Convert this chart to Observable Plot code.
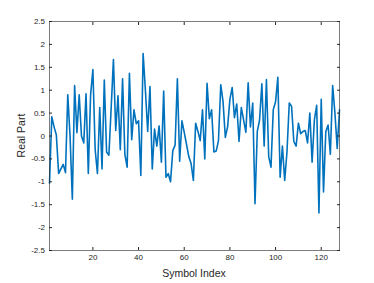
<!DOCTYPE html>
<html>
<head>
<meta charset="utf-8">
<script src="https://cdn.jsdelivr.net/npm/d3@7"></script>
<script src="https://cdn.jsdelivr.net/npm/@observablehq/plot@0.6"></script>
<style>
  html, body { margin: 0; padding: 0; background: #fff; }
  #chart svg { display: block; }
</style>
</head>
<body>
<div id="chart"></div>
<script>
const realPart = [
  -1.03, 0.42, 0.2, 0.02, -0.82, -0.72, -0.62, -0.8, 0.9, 0.0,
  -1.38, 1.1, 0.07, 0.9, 0.0, -0.15, 0.92, -0.82, 0.9, 1.45,
  -0.3, -0.82, 0.62, -0.72, 1.22, -0.35, -0.42, 0.6, 1.67, 0.12,
  0.88, -0.3, 1.25, -0.4, -0.68, 1.37, -0.08, 0.57, 0.27, 0.33,
  -0.86, 1.8, 1.0, 0.1, 1.08, -0.72, 0.15, -0.22, 0.22, -0.57,
  0.98, -0.9, -0.82, -1.0, -0.32, -0.2, 1.25, -0.55, 0.33, 0.08,
  -0.18, -0.45, -0.6, -0.97, 0.28, 0.1, -0.1, 0.57, -0.5, 1.15,
  0.38, 0.57, -0.35, -0.33, -0.1, 1.12, 0.75, -0.03, 0.2, 0.8,
  1.06, 0.4, 0.7, -0.12, 0.62, 0.35, 0.08, 1.16, 0.2, 0.72,
  -1.48, 0.1, 0.35, 1.14, -0.22, 1.23, -0.45, -0.68, 0.58, 0.75,
  1.28, -0.9, -0.22, -0.97, -0.35, 0.72, 0.65, -0.12, -0.22, 0.28,
  0.05, 0.1, 0.12, -0.15, 0.5, -0.57, 0.35, 0.67, -1.68, 0.8,
  -1.22, 0.1, 0.24, -0.4, 1.1, 0.5, -0.27, 0.57
];
const symbolIndex = realPart.map((_, i) => i + 1);
const xTicks = [20, 40, 60, 80, 100, 120];
const yTicks = [-2.5, -2, -1.5, -1, -0.5, 0, 0.5, 1, 1.5, 2, 2.5];
const xLabel = "Symbol Index";
const yLabel = "Real Part";

const data = symbolIndex.map((x, i) => ({x, y: realPart[i]}));
const axisColor = "#262626";
const fmt = d => String(d);

const chart = Plot.plot({
  width: 374,
  height: 283,
  marginLeft: 49,
  marginRight: 35,
  marginTop: 21,
  marginBottom: 33,
  style: {fontFamily: "'Liberation Sans', Arial, Helvetica, sans-serif", fontSize: "8px", color: axisColor, background: "#fff"},
  x: {domain: [1, 128]},
  y: {domain: [-2.5, 2.5]},
  marks: [
    Plot.line(data, {x: "x", y: "y", stroke: "#0072BD", strokeWidth: 1.6, strokeLinejoin: "round"}),
    Plot.frame({stroke: axisColor, strokeWidth: 0.6}),
    Plot.axisX({ticks: xTicks, tickFormat: fmt, tickSize: -3, tickPadding: 7, stroke: axisColor, fill: axisColor, label: null}),
    Plot.axisX({anchor: "top", ticks: xTicks, tickSize: -3, stroke: axisColor, text: null, label: null}),
    Plot.axisY({ticks: yTicks, tickFormat: fmt, tickSize: -3, tickPadding: 7.5, stroke: axisColor, fill: axisColor, label: null}),
    Plot.axisY({anchor: "right", ticks: yTicks, tickSize: -3, stroke: axisColor, text: null, label: null})
  ]
});

const svg = d3.select(chart);
svg.append("text")
  .attr("x", 49 + (374 - 49 - 35) / 2)
  .attr("y", 277)
  .attr("text-anchor", "middle")
  .attr("fill", axisColor)
  .style("font-size", "10.5px")
  .text(xLabel);
svg.append("text")
  .attr("transform", `translate(25, ${21 + (283 - 21 - 33) / 2}) rotate(-90)`)
  .attr("text-anchor", "middle")
  .attr("fill", axisColor)
  .style("font-size", "10.5px")
  .text(yLabel);

document.getElementById("chart").appendChild(chart);
</script>
</body>
</html>
